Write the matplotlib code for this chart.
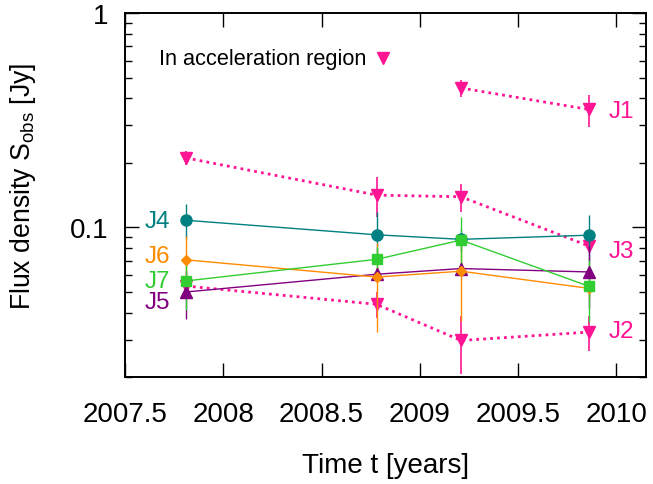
import matplotlib
matplotlib.use("Agg")
import matplotlib.pyplot as plt
from matplotlib.ticker import LogLocator, NullFormatter, FixedLocator, FixedFormatter

plt.rcParams['font.family'] = ['Liberation Sans', 'DejaVu Sans']
plt.rcParams['mathtext.fontset'] = 'custom'
plt.rcParams['mathtext.rm'] = 'Liberation Sans'
plt.rcParams['mathtext.it'] = 'Liberation Sans:italic'

# epochs (years)
t = [2007.81, 2008.78, 2009.21, 2009.86]

# accelerating components (pink)
j1_t = [2009.21, 2009.86]
j1 = [0.447, 0.355]
j1_err = [0.04, 0.06]

j2 = [0.0533, 0.0438, 0.0297, 0.0325]
j2_err = [0.003, 0.006, 0.009, 0.006]

j3 = [0.211, 0.1415, 0.139, 0.082]
j3_err = [0.016, 0.03, 0.021, 0.005]

# other components
j4 = [0.108, 0.0924, 0.088, 0.092]
j4_err = [0.02, 0.025, 0.01, 0.0225]

j5 = [0.050, 0.0605, 0.0643, 0.062]
j5_err = [0.0126, 0.005, 0.005, 0.02]

j6 = [0.0706, 0.0587, 0.0625, 0.052]
j6_err = [0.021, 0.026, 0.026, 0.005]

j7 = [0.0563, 0.071, 0.0873, 0.0532]
j7_err = [0.015, 0.01, 0.0245, 0.017]

xticks = [2007.5, 2008, 2008.5, 2009, 2009.5, 2010]
xtick_labels = ["2007.5", "2008", "2008.5", "2009", "2009.5", "2010"]

PINK = "#ff1493"
TEAL = "#008080"
PURPLE = "#800080"
ORANGE = "#ff8c00"
GREEN = "#32cd32"

fig = plt.figure(figsize=(6.53, 4.85), dpi=100)
ax = fig.add_axes([0.1916, 0.22, 0.7972, 0.7511])

def pink(x, y, e):
    ax.errorbar(x, y, yerr=e, color=PINK, ecolor=PINK, elinewidth=1.2, lw=2.0,
                ls=(0, (1, 1.5)), marker='v', ms=9, capsize=0, zorder=3)

pink(j1_t, j1, j1_err)
pink(t, j2, j2_err)
pink(t, j3, j3_err)

ax.errorbar(t, j4, yerr=j4_err, color=TEAL, lw=1.0, elinewidth=1.0, marker='o', ms=8, capsize=0, zorder=4)
ax.errorbar(t, j5, yerr=j5_err, color=PURPLE, lw=1.0, elinewidth=1.0, marker='^', ms=8, capsize=0, zorder=4)
ax.errorbar(t, j6, yerr=j6_err, color=ORANGE, lw=1.0, elinewidth=1.0, marker='D', ms=5.5, capsize=0, zorder=4)
ax.errorbar(t, j7, yerr=j7_err, color=GREEN, lw=1.0, elinewidth=1.0, marker='s', ms=7.5, capsize=0, zorder=4)

ax.set_yscale('log')
ax.set_xlim(2007.5, 2010.15)
ax.set_ylim(0.02, 1.0)

ax.xaxis.set_major_locator(FixedLocator(xticks))
ax.xaxis.set_major_formatter(FixedFormatter(xtick_labels))
ax.yaxis.set_major_locator(FixedLocator([0.1, 1.0]))
ax.yaxis.set_major_formatter(FixedFormatter(["0.1", "1"]))
ax.yaxis.set_minor_locator(LogLocator(base=10, subs=[2, 3, 4, 5, 6, 7, 8, 9]))
ax.yaxis.set_minor_formatter(NullFormatter())

ax.tick_params(axis='x', which='major', direction='in', length=10, width=1.0,
               top=True, labelsize=20, pad=17)
ax.tick_params(axis='y', which='major', direction='in', length=10, width=1.0,
               right=True, labelsize=20, pad=12)
ax.tick_params(axis='y', which='minor', direction='in', length=5, width=1.0, right=True)
ax.tick_params(axis='x', which='minor', bottom=False, top=False)
for s in ax.spines.values():
    s.set_linewidth(1.4)

ax.set_xlabel("Time t [years]", fontsize=20)
ax.set_ylabel(r"Flux density S$_{\mathrm{obs}}$ [Jy]", fontsize=19.2)
ax.xaxis.set_label_coords(0.5, -0.205)
ax.yaxis.set_label_coords(-0.168, 0.527)

# component labels
ax.text(2007.601, 0.1073, "J4", color=TEAL, fontsize=17.5, ha='left', va='center')
ax.text(2007.601, 0.0735, "J6", color=ORANGE, fontsize=17.5, ha='left', va='center')
ax.text(2007.601, 0.0562, "J7", color=GREEN, fontsize=17.5, ha='left', va='center')
ax.text(2007.601, 0.0448, "J5", color=PURPLE, fontsize=17.5, ha='left', va='center')
ax.text(2009.964, 0.349, "J1", color=PINK, fontsize=17.5, ha='left', va='center')
ax.text(2009.964, 0.0775, "J3", color=PINK, fontsize=17.5, ha='left', va='center')
ax.text(2009.964, 0.0328, "J2", color=PINK, fontsize=17.5, ha='left', va='center')

ax.text(2007.674, 0.6146, "In acceleration region", color='black', fontsize=15.7,
        ha='left', va='center')
ax.plot([2008.815], [0.6146], marker='v', color=PINK, ms=9, ls='none')

fig.savefig("out.png", dpi=100)
